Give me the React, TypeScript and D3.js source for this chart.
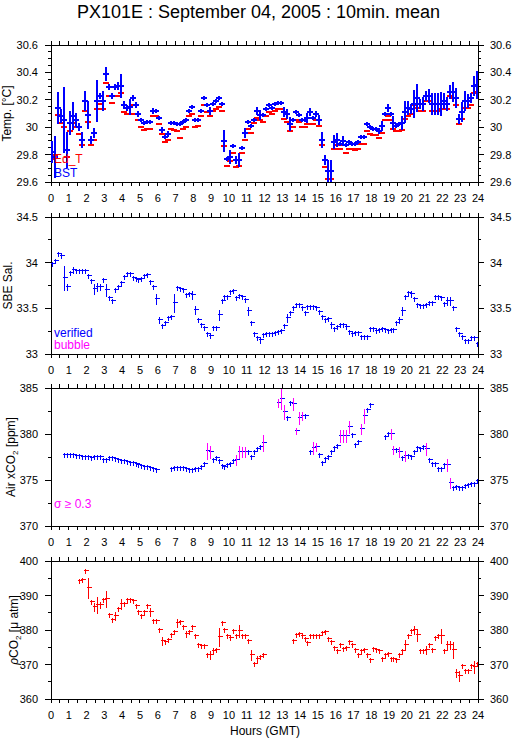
import React from "react";
import * as d3 from "d3";

// ---------- DATA (10-minute means, slot i = hour (i+0.5)/6) ----------
const hourLabels = ["0","1","2","3","4","5","6","7","8","9","10","11","12","13","14","15","16","17","18","19","20","21","22","23","24"];

const tempTicks = [29.6, 29.8, 30, 30.2, 30.4, 30.6];
const salTicks = [33, 33.5, 34, 34.5];
const airTicks = [370, 375, 380, 385];
const pco2Ticks = [360, 370, 380, 390, 400];

const bstTemp: (number | null)[] = [
  29.82,29.78,30.14,30.08,30.05,29.83,30.03,30.08,30.05,30.0,
  29.91,30.19,30.09,29.91,29.96,30.19,30.23,30.19,30.39,30.29,
  30.23,30.29,30.3,30.3,30.16,30.14,30.15,30.21,30.16,30.1,
  30.05,30.03,30.04,30.04,30.12,30.12,30.07,29.98,29.93,29.95,
  30.03,30.03,30.02,30.02,30.04,30.05,30.12,30.15,30.05,30.05,
  30.12,30.21,30.16,30.12,30.17,30.19,30.21,30.17,29.9,29.77,
  29.78,29.86,29.76,29.76,29.85,29.96,30.04,30.01,30.05,30.12,
  30.09,30.09,30.13,30.16,30.14,30.17,30.18,30.18,30.11,30.1,
  30.02,30.05,30.11,30.09,30.05,30.05,30.07,30.11,30.07,30.1,
  30.05,29.91,29.76,29.68,29.68,29.89,29.91,29.88,29.9,29.87,
  29.89,29.88,29.88,29.89,29.93,29.93,30.02,30.0,29.99,29.99,
  29.97,30.01,30.1,30.14,30.1,30.03,30.01,30.02,30.03,30.11,
  30.14,30.13,30.17,30.21,30.17,30.17,30.23,30.23,30.17,30.17,
  30.17,30.17,30.19,30.17,30.26,30.26,30.21,30.06,30.11,30.19,
  30.19,30.21,30.3,30.31
];

const bstErr: number[] = [
  0.08,0.15,0.12,0.05,0.24,0.13,0.085,0.1,0.05,0.03,
  0.055,0.07,0.1,0.03,0.04,0.15,0.02,0.07,0.05,0.02,
  0.02,0.02,0.03,0.09,0.03,0.02,0.06,0.02,0.02,0.02,
  0.015,0.015,0.015,0.015,0.02,0.015,0.015,0.02,0.015,0.02,
  0.015,0.015,0.015,0.015,0.015,0.015,0.015,0.015,0.015,0.015,
  0.015,0.015,0.015,0.03,0.015,0.015,0.015,0.015,0.08,0.015,
  0.05,0.015,0.03,0.05,0.015,0.04,0.015,0.015,0.015,0.03,
  0.04,0.015,0.015,0.015,0.015,0.015,0.015,0.015,0.04,0.04,
  0.05,0.015,0.015,0.015,0.015,0.015,0.04,0.03,0.015,0.02,
  0.035,0.06,0.04,0.08,0.08,0.05,0.05,0.015,0.04,0.015,
  0.015,0.015,0.015,0.015,0.015,0.015,0.015,0.015,0.015,0.015,
  0.02,0.04,0.015,0.03,0.015,0.05,0.015,0.015,0.05,0.08,
  0.05,0.04,0.1,0.1,0.04,0.05,0.04,0.05,0.08,0.08,
  0.08,0.09,0.06,0.05,0.05,0.07,0.07,0.04,0.07,0.07,
  0.05,0.04,0.07,0.1
];

const edTemp: (number | null)[] = [
  29.77,29.8,30.09,30.03,30.0,29.78,29.97,30.03,30.0,29.95,
  29.87,30.12,30.04,29.87,29.91,30.13,30.17,30.13,30.32,30.23,
  30.18,30.23,30.23,30.25,30.11,30.1,30.1,30.16,30.1,30.05,
  30.0,29.98,29.99,29.99,30.08,30.08,30.02,29.95,29.89,29.91,
  29.99,29.98,29.97,29.92,29.99,30.0,30.08,30.1,30.0,30.01,
  30.08,30.16,30.11,30.08,30.12,30.13,30.15,30.12,29.86,29.72,
  29.75,29.81,29.71,29.72,29.81,29.91,29.99,29.96,30.03,30.07,
  30.05,30.04,30.08,30.11,30.1,30.12,30.13,30.13,30.06,30.04,
  29.97,30.0,30.05,30.04,30.0,30.0,30.02,30.02,30.02,30.05,
  30.01,29.87,29.71,29.62,29.62,29.84,29.87,29.84,29.87,29.81,
  29.84,29.84,29.83,29.84,29.88,29.88,29.97,29.95,29.94,29.94,
  29.92,29.96,30.05,30.08,30.05,29.99,29.97,29.97,29.98,30.06,
  30.08,30.1,30.16,30.14,30.12,30.12,30.19,30.19,30.12,30.12,
  30.12,30.13,30.13,30.13,30.23,30.21,30.16,30.02,30.06,30.14,
  30.14,30.16,30.25,30.26
];

const salinity: (number | null)[] = [
  34.0,34.03,34.11,34.08,33.84,33.75,33.9,33.93,33.92,33.92,
  33.92,33.92,33.86,33.81,33.72,33.75,33.74,33.82,33.71,33.62,
  33.59,33.71,33.74,33.79,33.85,33.89,33.89,33.84,33.83,33.82,
  33.83,33.86,33.88,33.8,33.75,33.61,33.38,33.32,33.35,33.4,
  33.42,33.57,33.73,33.72,33.71,33.66,33.67,33.66,33.49,33.38,
  33.33,33.3,33.23,33.21,33.3,33.3,33.44,33.59,33.63,33.64,
  33.69,33.7,33.62,33.65,33.64,33.6,33.48,33.35,33.23,33.19,
  33.16,33.22,33.23,33.23,33.23,33.24,33.25,33.26,33.32,33.41,
  33.46,33.51,33.55,33.55,33.52,33.46,33.53,33.53,33.53,33.52,
  33.47,33.42,33.38,33.39,33.33,33.29,33.31,33.33,33.33,33.31,
  33.25,33.23,33.24,33.24,33.2,33.2,33.2,33.28,33.29,33.26,
  33.27,33.29,33.27,33.26,33.27,33.27,33.35,33.38,33.48,33.63,
  33.68,33.67,33.61,33.55,33.54,33.54,33.55,33.57,33.57,33.64,
  33.63,33.62,33.56,33.59,33.59,33.51,33.28,33.23,33.2,33.15,
  33.15,33.19,33.19,33.12
];
const salErrBig: [number, number][] = [
  [4,0.13],[5,0.03],[7,0.03],[14,0.05],[15,0.04],[16,0.03],[18,0.07],[35,0.05],[36,0.03],
  [41,0.1],[47,0.04],[48,0.04],[56,0.06],[66,0.04],[70,0.03],[79,0.04],[94,0.03],
  [117,0.03],[118,0.04],[121,0.03],[133,0.04],[134,0.04],[135,0.02]
];

const airXco2: (number | null)[] = [
  null,null,null,null,377.81,377.8,377.78,377.84,377.75,377.7,
  377.66,377.63,377.6,377.55,377.58,377.6,377.62,377.3,377.26,377.5,
  377.55,377.4,377.26,377.2,377.12,377.05,376.97,376.92,376.88,376.75,
  376.65,376.57,376.5,376.45,376.35,376.25,null,null,null,null,
  376.35,376.45,376.46,376.42,376.39,376.35,376.21,376.21,376.28,376.35,
  376.55,376.8,378.3,378.2,377.3,377.48,377.19,376.6,376.57,376.75,
  376.83,377.19,377.3,378.2,378.17,378.2,378.2,377.66,378.17,378.53,
  378.72,379.1,null,null,null,null,383.47,383.9,382.53,381.84,
  383.47,383.37,380.4,381.84,382.1,382.1,null,378.1,378.57,378.72,
  377.8,377.0,377.37,377.63,378.17,378.64,378.82,379.84,379.84,379.84,
  380.9,380.0,378.93,379.26,380.64,382.1,382.71,383.29,null,null,
  null,null,379.8,380.1,380.1,378.35,378.39,378.1,377.48,377.74,
  377.74,377.66,378.17,378.57,378.46,378.72,378.46,377.26,376.83,376.83,
  376.28,376.28,376.72,376.72,374.83,374.28,374.36,374.21,374.21,374.47,
  374.57,374.72,374.72,375.0
];
const airErrBig: [number, number][] = [
  [52,0.9],[53,0.6],[62,0.5],[63,0.6],[64,0.5],[65,0.5],[71,0.9],[76,0.45],[77,1.1],[78,0.8],
  [79,0.2],[80,0.25],[81,0.7],[82,0.35],[83,0.6],[84,0.45],[85,0.25],[88,0.7],[89,0.45],
  [90,0.25],[91,0.25],[97,0.65],[98,0.65],[99,0.65],[100,0.6],[101,0.25],[104,0.55],
  [105,0.8],[107,0.2],[114,0.5],[115,0.45],[117,0.5],[119,0.5],[126,0.6],[133,0.65],[134,0.55]
];

const pco2: (number | null)[] = [
  null,null,null,null,null,null,null,null,null,394.6,
  394.9,397.5,392.5,388.4,386.9,387.4,387.6,389.1,389.4,384.7,
  383.3,384.3,386.4,387.8,387.8,389.1,389.1,388.8,387.3,385.4,
  384.4,385.5,387.3,385.4,382.8,382.8,380.4,377.2,376.8,377.5,
  378.7,379.7,382.3,382.5,381.1,379.2,379.7,381.1,378.5,376.0,
  375.7,375.7,373.1,372.9,374.3,374.6,378.2,382.3,380.4,378.5,
  378.0,379.9,378.6,379.9,378.6,378.6,377.0,372.9,370.5,372.0,
  372.4,372.9,null,null,null,null,null,null,null,null,
  null,377.2,378.7,379.1,378.6,377.7,376.5,378.5,378.5,378.5,
  378.5,379.4,379.7,377.8,376.7,375.1,374.3,376.0,374.9,375.1,
  376.7,375.8,374.6,373.1,374.1,374.6,372.9,371.7,374.9,374.6,
  374.3,372.0,373.1,373.3,372.0,372.0,371.7,373.1,374.3,376.0,
  378.6,380.1,380.4,378.9,374.1,374.1,374.6,375.8,374.6,378.0,
  378.5,378.5,374.3,375.8,375.8,374.6,367.8,367.1,369.8,368.3,
  368.3,370.0,369.5,370.4
];
const pco2ErrBig: [number, number][] = [
  [12,2.8],[14,1.2],[15,2.2],[16,1.0],[18,2.2],[21,1.3],[23,1.4],[33,1.2],[37,1.2],[42,1.1],
  [45,0.8],[53,1.2],[54,1.0],[56,2.7],[63,1.6],[67,1.4],[69,1.0],[119,1.4],[122,1.2],
  [123,1.8],[126,1.2],[131,1.9],[133,1.1],[134,1.1],[135,2.4],[136,1.3],[137,1.5],[142,1.6]
];

// ---------- LAYOUT ----------
const W = 515;
const H = 739;
const FONT = "'Liberation Sans', Arial, Helvetica, sans-serif";
const BLUE = "#0000ff";
const RED = "#ff0000";
const MAGENTA = "#ff00ff";

const x = d3.scaleLinear().domain([0, 24]).range([51, 478]);
const slotHour = (i: number) => (i + 0.5) / 6;

function errArray(n: number, def: number, big: [number, number][]) {
  const a = new Array(n).fill(def);
  big.forEach(([i, e]) => (a[i] = e));
  return a as number[];
}

type PanelProps = {
  top: number;
  bottom: number;
  domain: [number, number];
  ticks: number[];
  minorStep: number;
};

function Frame({ top, bottom, domain, ticks, minorStep }: PanelProps) {
  const y = d3.scaleLinear().domain(domain).range([bottom, top]);
  const xt = d3.range(0, 24.001, 0.5);
  const minor = d3.range(domain[0], domain[1] + minorStep / 2, minorStep);
  const L = x(0), R = x(24);
  return (
    <g shapeRendering="crispEdges" stroke="#000" strokeWidth={1}>
      <rect x={L} y={top} width={R - L} height={bottom - top} fill="none" />
      {xt.map((h) => (
        <g key={"xt" + h}>
          <line x1={x(h)} x2={x(h)} y1={top} y2={top - 4} />
          <line x1={x(h)} x2={x(h)} y1={bottom} y2={bottom + 4} />
        </g>
      ))}
      {minor.map((v) => (
        <g key={"mn" + v}>
          <line x1={L} x2={L - 3} y1={y(v)} y2={y(v)} />
          <line x1={R} x2={R + 3} y1={y(v)} y2={y(v)} />
        </g>
      ))}
      {ticks.map((v) => (
        <g key={"mj" + v}>
          <line x1={L} x2={L - 6} y1={y(v)} y2={y(v)} />
          <line x1={R} x2={R + 6} y1={y(v)} y2={y(v)} />
        </g>
      ))}
      <g stroke="none" fill="#000" fontFamily={FONT} fontSize={11}>
        {hourLabels.map((t, i) => (
          <text key={"xl" + t} x={x(i)} y={bottom + 20} textAnchor="middle">
            {t}
          </text>
        ))}
        {ticks.map((v) => (
          <g key={"yl" + v}>
            <text x={38} y={y(v) + 4} textAnchor="end">{String(v)}</text>
            <text x={490} y={y(v) + 4} textAnchor="start">{String(v)}</text>
          </g>
        ))}
      </g>
    </g>
  );
}

function Crosses({
  values, errs, y, color, errColorFn, hw, sw, minHalf,
}: {
  values: (number | null)[];
  errs: number[];
  y: d3.ScaleLinear<number, number>;
  color: string;
  errColorFn?: (e: number) => string;
  hw: number;
  sw: number;
  minHalf: number;
}) {
  const off = sw % 2 === 1 ? 0.5 : 0;
  return (
    <g strokeWidth={sw} fill="none" shapeRendering="crispEdges">
      {values.map((v, i) => {
        if (v == null) return null;
        const cx = Math.round(x(slotHour(i))) + off;
        const cy = Math.round(y(v)) + off;
        const e = errs[i] ?? 0;
        const half = Math.max(Math.round(Math.abs(y(v + e) - y(v))), minHalf);
        const ec = errColorFn ? errColorFn(e) : color;
        return (
          <g key={i}>
            <line x1={cx - hw} x2={cx + hw + (off ? 1 : 0)} y1={cy} y2={cy} stroke={color} />
            <line x1={cx} x2={cx} y1={cy - half} y2={cy + half + (off ? 1 : 0)} stroke={ec} />
          </g>
        );
      })}
    </g>
  );
}

function Dashes({ values, y, color, hw, sw }: { values: (number | null)[]; y: d3.ScaleLinear<number, number>; color: string; hw: number; sw: number }) {
  return (
    <g stroke={color} strokeWidth={sw} shapeRendering="crispEdges">
      {values.map((v, i) => {
        if (v == null) return null;
        const cx = Math.round(x(slotHour(i)));
        const cy = Math.round(y(v));
        return <line key={i} x1={cx - hw} x2={cx + hw} y1={cy} y2={cy} />;
      })}
    </g>
  );
}

export default function App() {
  const P1 = { top: 45, bottom: 182, domain: [29.6, 30.6] as [number, number] };
  const P2 = { top: 217, bottom: 354, domain: [33, 34.5] as [number, number] };
  const P3 = { top: 388, bottom: 526, domain: [370, 385] as [number, number] };
  const P4 = { top: 561, bottom: 699, domain: [360, 400] as [number, number] };

  const y1 = d3.scaleLinear().domain(P1.domain).range([P1.bottom, P1.top]);
  const y2 = d3.scaleLinear().domain(P2.domain).range([P2.bottom, P2.top]);
  const y3 = d3.scaleLinear().domain(P3.domain).range([P3.bottom, P3.top]);
  const y4 = d3.scaleLinear().domain(P4.domain).range([P4.bottom, P4.top]);

  const salErr = errArray(144, 0.01, salErrBig);
  const airErr = errArray(144, 0.08, airErrBig);
  const pcoErr = errArray(144, 0.4, pco2ErrBig);

  const clip = (id: string, p: { top: number; bottom: number }) => (
    <clipPath id={id}>
      <rect x={x(0)} y={p.top} width={x(24) - x(0)} height={p.bottom - p.top} />
    </clipPath>
  );

  return (
    <svg
      width={W}
      height={H}
      viewBox={`0 0 ${W} ${H}`}
      style={{ position: "absolute", left: 0, top: 0, background: "#fff" }}
      fontFamily={FONT}
    >
      <defs>
        {clip("c1", P1)}
        {clip("c2", P2)}
        {clip("c3", P3)}
        {clip("c4", P4)}
      </defs>
      <rect x={0} y={0} width={W} height={H} fill="#fff" />
      <text x={258.5} y={18} textAnchor="middle" fontSize={18} fill="#000">
        PX101E : September 04, 2005 : 10min. mean
      </text>

      {/* Panel 1 : temperature */}
      <Frame {...P1} ticks={tempTicks} minorStep={0.05} />
      <g clipPath="url(#c1)">
        <Dashes values={edTemp} y={y1} color={RED} hw={3} sw={2} />
        <Crosses values={bstTemp} errs={bstErr} y={y1} color={BLUE} hw={3} sw={2} minHalf={2} />
      </g>
      <text x={54} y={163} fontSize={12} fill={RED}>Ed_T</text>
      <text x={54} y={176.5} fontSize={12} fill={BLUE}>BST</text>
      <text transform={`translate(11,${(P1.top + P1.bottom) / 2}) rotate(-90)`} textAnchor="middle" fontSize={12}>
        Temp. [°C]
      </text>

      {/* Panel 2 : salinity */}
      <Frame {...P2} ticks={salTicks} minorStep={0.25} />
      <g clipPath="url(#c2)">
        <Crosses values={salinity} errs={salErr} y={y2} color={BLUE} hw={2} sw={1} minHalf={2} />
      </g>
      <text x={54} y={336.5} fontSize={12} fill={BLUE}>verified</text>
      <text x={54} y={349} fontSize={12} fill={MAGENTA}>bubble</text>
      <text transform={`translate(11.5,${(P2.top + P2.bottom) / 2}) rotate(-90)`} textAnchor="middle" fontSize={12}>
        SBE Sal.
      </text>

      {/* Panel 3 : air xCO2 */}
      <Frame {...P3} ticks={airTicks} minorStep={2.5} />
      <g clipPath="url(#c3)">
        <Crosses
          values={airXco2}
          errs={airErr}
          y={y3}
          color={BLUE}
          errColorFn={(e) => (e >= 0.3 ? MAGENTA : BLUE)}
          hw={2}
          sw={1}
          minHalf={2}
        />
      </g>
      <text x={54} y={507.5} fontSize={12} fill={MAGENTA}>σ ≥ 0.3</text>
      <text transform={`translate(15,${(P3.top + P3.bottom) / 2}) rotate(-90)`} textAnchor="middle" fontSize={12}>
        Air xCO<tspan fontSize={8} dy={3}>2</tspan><tspan dy={-3}> [ppm]</tspan>
      </text>

      {/* Panel 4 : pCO2 */}
      <Frame {...P4} ticks={pco2Ticks} minorStep={5} />
      <g clipPath="url(#c4)">
        <Crosses values={pco2} errs={pcoErr} y={y4} color={RED} hw={2} sw={1} minHalf={2} />
      </g>
      <text transform={`translate(18,${(P4.top + P4.bottom) / 2}) rotate(-90)`} textAnchor="middle" fontSize={12}>
        <tspan fontStyle="italic">ρ</tspan>CO<tspan fontSize={8} dy={3}>2</tspan><tspan dy={-3}> [μ atm]</tspan>
      </text>

      <text x={265} y={735} textAnchor="middle" fontSize={12}>Hours (GMT)</text>
    </svg>
  );
}
